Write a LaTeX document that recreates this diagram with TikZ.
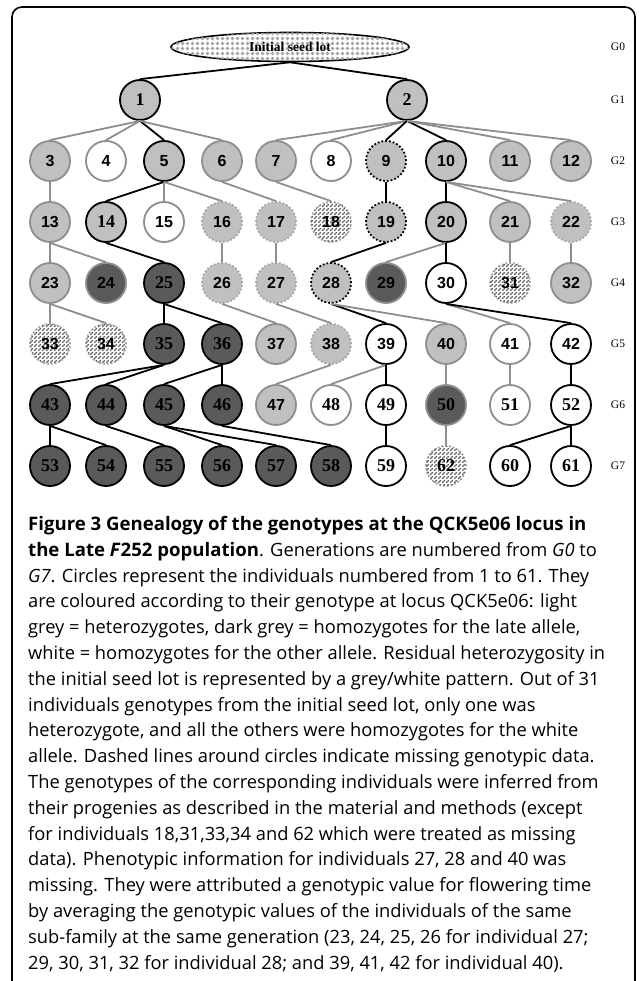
\documentclass[tikz,border=0pt]{standalone}
\usepackage{fontspec}
\setmainfont{Liberation Serif}
\newfontfamily\capfont{Open Sans}
\newfontfamily\numsans{Liberation Sans}
\usetikzlibrary{shapes.geometric,patterns}
\definecolor{hetgrey}{HTML}{C0C0C0}
\definecolor{lategrey}{HTML}{5A5A5A}
\definecolor{ringgrey}{HTML}{8E8E8E}
\definecolor{dotgrey}{HTML}{A6A6A6}
\definecolor{hatchgrey}{HTML}{5E5E5E}
\definecolor{seedgrey}{HTML}{A4A4A4}
\pgfdeclarepatternformonly{seeddots}{\pgfqpoint{-1pt}{-1pt}}{\pgfqpoint{6pt}{6pt}}{\pgfqpoint{5pt}{5pt}}{%
  \pgfpathcircle{\pgfqpoint{2.5pt}{2.5pt}}{1.8pt}\pgfusepath{fill}}
\pgfdeclarepatternformonly{hatch}{\pgfqpoint{-1pt}{-1pt}}{\pgfqpoint{5pt}{5pt}}{\pgfqpoint{4pt}{4pt}}{%
  \pgfsetlinewidth{1.1pt}\pgfpathmoveto{\pgfqpoint{-0.5pt}{-0.5pt}}\pgfpathlineto{\pgfqpoint{4.5pt}{4.5pt}}\pgfusepath{stroke}}
\newcommand{\ttl}[1]{{\fontsize{18.6}{25.8}\selectfont\bfseries #1}}

\begin{document}
\begin{tikzpicture}[x=1pt,y=-1pt,
			ind/.style={circle,minimum size=40pt,inner sep=0pt,line width=1.8pt,font=\numsans\bfseries\fontsize{16}{16}\selectfont},
			hetz/.style={ind,fill=hetgrey},
			homl/.style={ind,fill=lategrey},
			homw/.style={ind,fill=white},
			lost/.style={ind,fill=white,postaction={pattern=hatch,pattern color=hatchgrey}},
			kb/.style={draw=black},
			kg/.style={draw=ringgrey},
			mb/.style={draw=black,dotted},
			mg/.style={draw=dotgrey,dotted},
			tms/.style={font=\bfseries\fontsize{18}{18}\selectfont},
			lot/.style={ellipse,draw,line width=1.6pt,minimum width=238pt,minimum height=29pt,inner sep=0pt,fill=white,postaction={pattern=seeddots,pattern color=seedgrey},font=\bfseries\fontsize{13.5}{13.5}\selectfont},
			gen/.style={font=\fontsize{11.5}{11.5}\selectfont},
			lb/.style={line width=1.8pt,black},
			lg/.style={line width=1.8pt,ringgrey},
			legendtext/.style={anchor=north west,inner sep=0pt,align=left,font=\capfont\fontsize{18.3}{25.8}\selectfont}
			]
			\useasboundingbox (0,0) rectangle (638,981);
			\draw[line width=1.6pt,rounded corners=10pt] (12,981) -- (12,7) -- (635,7) -- (635,981);
			\node[lot] (seed) at (290,47) {Initial seed lot};
			\node[hetz,kb,tms] (n1) at (140,100) {1};
			\node[hetz,kb,tms] (n2) at (407,100) {2};
			\node[hetz,kg] (n3) at (50,161) {3};
			\node[homw,kg] (n4) at (106,161) {4};
			\node[hetz,kb] (n5) at (164,161) {5};
			\node[hetz,kg] (n6) at (222,161) {6};
			\node[hetz,kg] (n7) at (276,161) {7};
			\node[homw,kg] (n8) at (331,161) {8};
			\node[hetz,mb] (n9) at (386,161) {9};
			\node[hetz,kb] (n10) at (446,161) {10};
			\node[hetz,kg] (n11) at (510,161) {11};
			\node[hetz,kg] (n12) at (571,161) {12};
			\node[hetz,kg] (n13) at (50,222) {13};
			\node[hetz,kb,tms] (n14) at (106,222) {14};
			\node[homw,kg] (n15) at (164,222) {15};
			\node[hetz,mg] (n16) at (222,222) {16};
			\node[hetz,mg] (n17) at (276,222) {17};
			\node[lost,mg] (n18) at (331,222) {18};
			\node[hetz,mb] (n19) at (386,222) {19};
			\node[hetz,kb] (n20) at (446,222) {20};
			\node[hetz,kg] (n21) at (510,222) {21};
			\node[hetz,mg] (n22) at (571,222) {22};
			\node[hetz,kg] (n23) at (50,283) {23};
			\node[homl,kg] (n24) at (106,283) {24};
			\node[homl,kb,tms] (n25) at (164,283) {25};
			\node[hetz,mg] (n26) at (222,283) {26};
			\node[hetz,mg] (n27) at (276,283) {27};
			\node[hetz,mb] (n28) at (331,283) {28};
			\node[homl,kg] (n29) at (386,283) {29};
			\node[homw,kb] (n30) at (446,283) {30};
			\node[lost,mg] (n31) at (510,283) {31};
			\node[hetz,kg] (n32) at (571,283) {32};
			\node[lost,mg] (n33) at (50,344) {33};
			\node[lost,mg] (n34) at (106,344) {34};
			\node[homl,kb,tms] (n35) at (164,344) {35};
			\node[homl,kb,tms] (n36) at (222,344) {36};
			\node[hetz,kg] (n37) at (276,344) {37};
			\node[hetz,mg] (n38) at (331,344) {38};
			\node[homw,kb] (n39) at (386,344) {39};
			\node[hetz,kg] (n40) at (446,344) {40};
			\node[homw,kg] (n41) at (510,344) {41};
			\node[homw,kb] (n42) at (571,344) {42};
			\node[homl,kb,tms] (n43) at (50,405) {43};
			\node[homl,kb,tms] (n44) at (106,405) {44};
			\node[homl,kb,tms] (n45) at (164,405) {45};
			\node[homl,kb,tms] (n46) at (222,405) {46};
			\node[hetz,kg] (n47) at (276,405) {47};
			\node[homw,kg,tms] (n48) at (331,405) {48};
			\node[homw,kb,tms] (n49) at (386,405) {49};
			\node[homl,kg,tms] (n50) at (446,405) {50};
			\node[homw,kg,tms] (n51) at (510,405) {51};
			\node[homw,kb,tms] (n52) at (571,405) {52};
			\node[homl,kb,tms] (n53) at (50,466) {53};
			\node[homl,kb,tms] (n54) at (106,466) {54};
			\node[homl,kb,tms] (n55) at (164,466) {55};
			\node[homl,kb,tms] (n56) at (222,466) {56};
			\node[homl,kb,tms] (n57) at (276,466) {57};
			\node[homl,kb,tms] (n58) at (331,466) {58};
			\node[homw,kb,tms] (n59) at (386,466) {59};
			\node[lost,mg,tms] (n62) at (446,466) {62};
			\node[homw,kb,tms] (n60) at (510,466) {60};
			\node[homw,kb,tms] (n61) at (571,466) {61};
			\node[gen] (g0) at (618,47) {G0};
			\node[gen] (g1) at (618,100) {G1};
			\node[gen] (g2) at (618,161) {G2};
			\node[gen] (g3) at (618,222) {G3};
			\node[gen] (g4) at (618,283) {G4};
			\node[gen] (g5) at (618,344) {G5};
			\node[gen] (g6) at (618,405) {G6};
			\node[gen] (g7) at (618,466) {G7};
			\draw[lb] (seed.south)--(n1.north);
			\draw[lb] (seed.south)--(n2.north);
			\draw[lg] (n1.south)--(n3.north);
			\draw[lg] (n1.south)--(n4.north);
			\draw[lb] (n1.south)--(n5.north);
			\draw[lg] (n1.south)--(n6.north);
			\draw[lg] (n2.south)--(n7.north);
			\draw[lg] (n2.south)--(n8.north);
			\draw[lb] (n2.south)--(n9.north);
			\draw[lb] (n2.south)--(n10.north);
			\draw[lg] (n2.south)--(n11.north);
			\draw[lg] (n2.south)--(n12.north);
			\draw[lg] (n3.south)--(n13.north);
			\draw[lb] (n5.south)--(n14.north);
			\draw[lg] (n5.south)--(n15.north);
			\draw[lg] (n5.south)--(n16.north);
			\draw[lg] (n6.south)--(n17.north);
			\draw[lg] (n7.south)--(n18.north);
			\draw[lb] (n9.south)--(n19.north);
			\draw[lb] (n10.south)--(n20.north);
			\draw[lg] (n10.south)--(n21.north);
			\draw[lg] (n10.south)--(n22.north);
			\draw[lg] (n13.south)--(n23.north);
			\draw[lg] (n13.south)--(n24.north);
			\draw[lb] (n14.south)--(n25.north);
			\draw[lg] (n16.south)--(n26.north);
			\draw[lg] (n17.south)--(n27.north);
			\draw[lb] (n19.south)--(n28.north);
			\draw[lg] (n20.south)--(n29.north);
			\draw[lb] (n20.south)--(n30.north);
			\draw[lg] (n21.south)--(n31.north);
			\draw[lg] (n22.south)--(n32.north);
			\draw[lg] (n23.south)--(n33.north);
			\draw[lg] (n23.south)--(n34.north);
			\draw[lb] (n25.south)--(n35.north);
			\draw[lb] (n25.south)--(n36.north);
			\draw[lg] (n26.south)--(n37.north);
			\draw[lg] (n27.south)--(n38.north);
			\draw[lb] (n28.south)--(n39.north);
			\draw[lg] (n28.south)--(n40.north);
			\draw[lg] (n30.south)--(n41.north);
			\draw[lb] (n30.south)--(n42.north);
			\draw[lb] (n35.south)--(n43.north);
			\draw[lb] (n35.south)--(n44.north);
			\draw[lb] (n36.south)--(n45.north);
			\draw[lb] (n36.south)--(n46.north);
			\draw[lg] (n38.south)--(n47.north);
			\draw[lg] (n39.south)--(n48.north);
			\draw[lb] (n39.south)--(n49.north);
			\draw[lg] (n40.south)--(n50.north);
			\draw[lg] (n41.south)--(n51.north);
			\draw[lb] (n42.south)--(n52.north);
			\draw[lb] (n43.south)--(n53.north);
			\draw[lb] (n43.south)--(n54.north);
			\draw[lb] (n44.south)--(n55.north);
			\draw[lb] (n45.south)--(n56.north);
			\draw[lb] (n45.south)--(n57.north);
			\draw[lb] (n46.south)--(n58.north);
			\draw[lb] (n49.south)--(n59.north);
			\draw[lg] (n50.south)--(n62.north);
			\draw[lb] (n52.south)--(n60.north);
			\draw[lb] (n52.south)--(n61.north);
			\node[legendtext] (legend) at (28,516) {\ttl{Figure 3 Genealogy of the genotypes at the QCK5e06 locus in}\\
				\ttl{the Late \textit{F}252 population}. Generations are numbered from \textit{G0} to\\
				\textit{G7}. Circles represent the individuals numbered from 1 to 61. They\\
				are coloured according to their genotype at locus QCK5e06: light\\
				grey = heterozygotes, dark grey = homozygotes for the late allele,\\
				white = homozygotes for the other allele. Residual heterozygosity in\\
				the initial seed lot is represented by a grey/white pattern. Out of 31\\
				individuals genotypes from the initial seed lot, only one was\\
				heterozygote, and all the others were homozygotes for the white\\
				allele. Dashed lines around circles indicate missing genotypic data.\\
				The genotypes of the corresponding individuals were inferred from\\
				their progenies as described in the material and methods (except\\
				for individuals 18,31,33,34 and 62 which were treated as missing\\
				data). Phenotypic information for individuals 27, 28 and 40 was\\
				missing. They were attributed a genotypic value for flowering time\\
				by averaging the genotypic values of the individuals of the same\\
				sub-family at the same generation (23, 24, 25, 26 for individual 27;\\
				29, 30, 31, 32 for individual 28; and 39, 41, 42 for individual 40).};
		\end{tikzpicture}
\end{document}
